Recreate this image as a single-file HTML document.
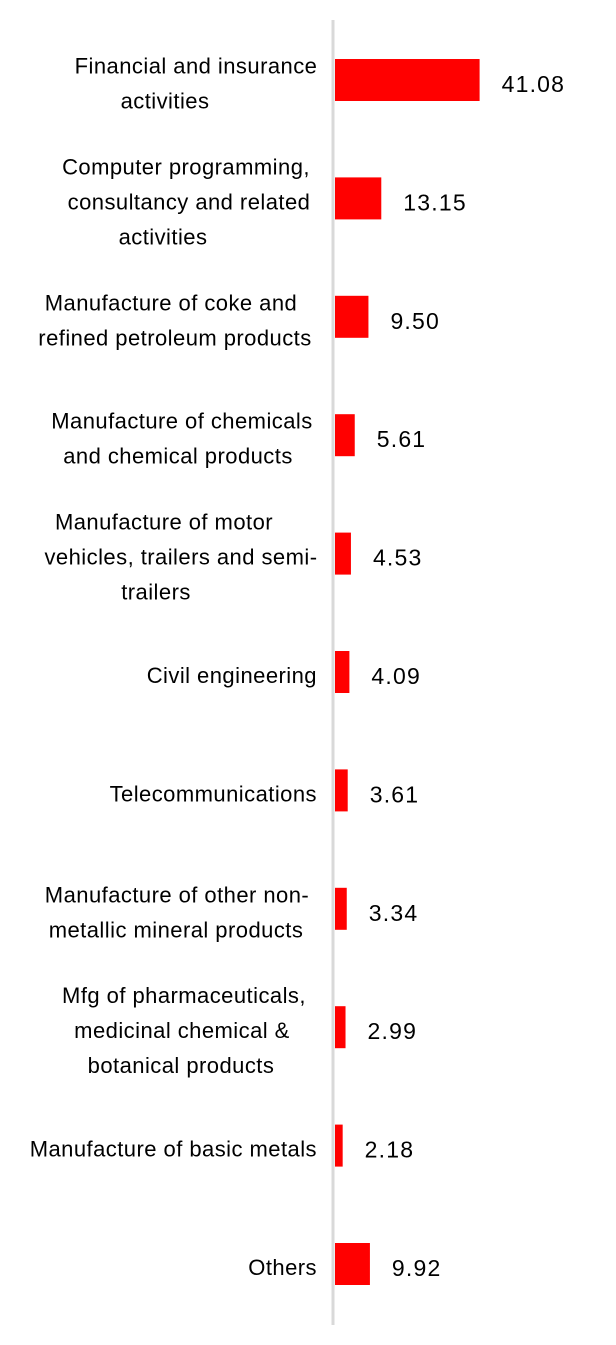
<!DOCTYPE html>
<html><head><meta charset="utf-8"><style>
html,body{margin:0;padding:0;background:#fff;}
svg{display:block;font-family:"Liberation Sans",sans-serif;}
</style></head><body>
<svg id="chart" width="616" height="1345" viewBox="0 0 616 1345" xmlns="http://www.w3.org/2000/svg">
<line x1="333" y1="20" x2="333" y2="1325" stroke="#d9d9d9" stroke-width="3"/>
<g id="bars"></g>
</svg>
<script>
const categories = [
 ["Financial and insurance","activities"],
 ["Computer programming,","consultancy and related","activities"],
 ["Manufacture of coke and","refined petroleum products"],
 ["Manufacture of chemicals","and chemical products"],
 ["Manufacture of motor","vehicles, trailers and semi-","trailers"],
 ["Civil engineering"],
 ["Telecommunications"],
 ["Manufacture of other non-","metallic mineral products"],
 ["Mfg of pharmaceuticals,","medicinal chemical &","botanical products"],
 ["Manufacture of basic metals"],
 ["Others"]
];
const values = [41.08,13.15,9.50,5.61,4.53,4.09,3.61,3.34,2.99,2.18,9.92];
const valueLabels = ["41.08","13.15","9.50","5.61","4.53","4.09","3.61","3.34","2.99","2.18","9.92"];
const lineCenters = [[196,165],[186,189,163],[171,175],[182,178],[164,181,156],[227],[207],[177,176],[184,182,181],[170],[276]];

const NS="http://www.w3.org/2000/svg";
const g=document.getElementById('bars');
const x0=335, scale=3.52;
function xs(v){return x0+v*scale;}
function ys(i){return 80+i*118.4;}
categories.forEach((lines,i)=>{
  const cy=ys(i);
  const r=document.createElementNS(NS,'rect');
  
  
  r.setAttribute('x',x0);r.setAttribute('y',cy-21);
  r.setAttribute('width',xs(values[i])-x0);r.setAttribute('height',42);
  r.setAttribute('fill','#ff0000');
  g.appendChild(r);
  const t=document.createElementNS(NS,'text');
  
  
  t.setAttribute('x',xs(values[i])+22);t.setAttribute('y',cy+12);
  t.setAttribute('font-size','23');t.setAttribute('letter-spacing','1.2');t.setAttribute('fill','#000');
  t.textContent=valueLabels[i];
  g.appendChild(t);
  const n=lines.length;
  lines.forEach((ln,j)=>{
    const lt=document.createElementNS(NS,'text');
    
    
    const lc=cy+3+(j-(n-1)/2)*35;
    lt.setAttribute('y',lc+8);
    if(n===1){lt.setAttribute('x',317);lt.setAttribute('text-anchor','end');}
    else{lt.setAttribute('x',lineCenters[i][j]);lt.setAttribute('text-anchor','middle');}
    lt.setAttribute('font-size','22');lt.setAttribute('letter-spacing','0.45');lt.setAttribute('fill','#000');
    lt.textContent=ln;
    g.appendChild(lt);
  });
});
</script>
</body></html>
